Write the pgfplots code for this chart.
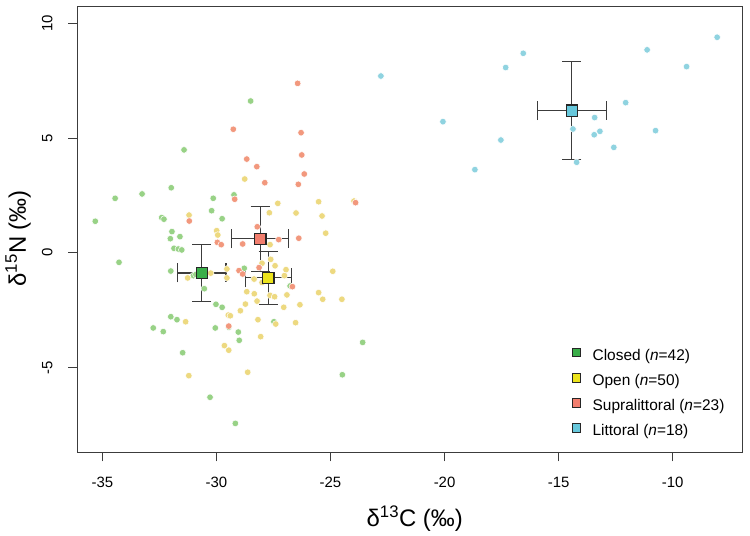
\documentclass[border=0pt]{standalone}
\usepackage{fontspec}
\setmainfont{Liberation Sans}
\usepackage{pgfplots}
\pgfplotsset{compat=1.18}
\definecolor{gl}{RGB}{152,210,134}
\definecolor{gm}{RGB}{58,174,73}
\definecolor{yl}{RGB}{237,217,128}
\definecolor{ym}{RGB}{236,228,28}
\definecolor{sl}{RGB}{242,152,125}
\definecolor{sm}{RGB}{242,126,110}
\definecolor{cl}{RGB}{143,211,224}
\definecolor{cm}{RGB}{103,200,220}
\definecolor{axc}{RGB}{60,60,60}
\begin{document}
\begin{tikzpicture}
\path[use as bounding box] (-77.5bp,-83.7bp) rectangle (672.5bp,452.3bp);
\begin{axis}[
  scale only axis, width=665.2bp, height=445.8bp,
  xmin=-36.09, xmax=-6.93, ymin=-8.70, ymax=10.73,
  xtick={-35,-30,-25,-20,-15,-10}, ytick={-5,0,5,10},
  xtick pos=bottom, ytick pos=left, tick align=outside,
  major tick length=9bp,
  axis line style={axc, line width=0.9bp},
  every tick/.style={axc, line width=0.9bp},
  /pgf/number format/assume math mode=true,
  ticklabel style={font=\fontsize{15}{18}\selectfont},
  xticklabel style={yshift=-12.5bp},
  yticklabel={\rotatebox{90}{\pgfmathprintnumber{\tick}}},
  yticklabel style={anchor=east, xshift=-12.5bp},
  xlabel={δ\textsuperscript{13}C (‰)},
  ylabel={δ\textsuperscript{15}N (‰)},
  label style={font=\fontsize{24}{28}\selectfont},
  xlabel style={at={(axis description cs:0.507,0)}, anchor=center, yshift=-66.7bp},
  ylabel style={at={(axis description cs:0,0.48)}, anchor=center, yshift=59.5bp},
  clip=false,
  legend style={draw=none, fill=none, font=\fontsize{15.5}{18}\selectfont,
    at={(axis cs:-14.42,-4.15)}, anchor=north west, inner sep=0pt,
    row sep=9.6bp, nodes={inner sep=0pt, text height=11bp, text depth=3.5bp},
    /tikz/every odd column/.style={column sep=11.9bp}},
  legend cell align=left,
  legend image code/.code={\draw[mark repeat=1,#1] plot coordinates {(0bp,4bp)};},
]
% Closed
\addplot[forget plot, only marks, mark=*, mark size=3.3bp, mark options={fill=gl, draw=white, line width=0.5bp}] table {
x y
-28.50 6.61
-31.42 4.48
-31.98 2.83
-34.44 2.37
-33.26 2.56
-30.14 2.37
-29.23 2.52
-35.31 1.37
-30.21 1.83
-29.75 1.48
-32.40 1.53
-32.30 1.46
-31.95 0.92
-31.60 0.70
-32.02 0.61
-31.86 0.19
-31.67 0.16
-31.52 0.12
-34.27 -0.42
-32.00 -0.80
-31.01 -1.00
-30.60 -0.90
-30.90 -0.95
-28.78 -0.68
-30.53 -1.57
-30.02 -2.25
-29.75 -2.38
-32.00 -2.79
-31.73 -2.92
-32.77 -3.28
-32.33 -3.44
-30.05 -3.28
-29.46 -3.25
-29.04 -3.46
-29.00 -3.82
-31.48 -4.36
-30.28 -6.30
-29.17 -7.44
-27.48 -3.01
-26.77 -1.45
-23.59 -3.91
-24.48 -5.32
};
% Open
\addplot[forget plot, only marks, mark=*, mark size=3.3bp, mark options={fill=yl, draw=white, line width=0.5bp}] table {
x y
-28.76 3.21
-31.20 1.64
-27.31 2.15
-27.68 1.74
-29.99 0.96
-29.94 0.77
-27.65 0.35
-25.52 2.22
-23.97 2.25
-26.51 1.73
-25.37 1.60
-25.21 0.85
-27.62 -0.29
-31.26 -1.10
-30.25 -0.89
-29.54 -0.71
-29.54 -1.10
-28.67 -1.70
-28.34 -1.79
-28.73 -2.24
-28.22 -2.11
-29.48 -2.72
-29.39 -2.75
-28.95 -2.53
-31.35 -3.01
-28.18 -2.92
-28.06 -3.66
-29.65 -4.05
-29.46 -4.25
-31.21 -5.36
-28.63 -5.21
-27.40 -3.11
-28.00 -0.46
-27.43 -0.57
-26.95 -0.74
-27.02 -1.00
-28.35 -1.15
-24.90 -0.81
-27.65 -1.86
-27.45 -1.92
-26.91 -1.84
-25.52 -1.74
-25.34 -2.03
-24.50 -2.03
-26.34 -2.27
-27.05 -2.38
-26.53 -3.05
-27.80 -1.00
-27.60 -1.20
-28.00 -1.30
};
% Supralittoral
\addplot[forget plot, only marks, mark=*, mark size=3.3bp, mark options={fill=sl, draw=white, line width=0.5bp}] table {
x y
-29.26 5.38
-28.67 4.08
-28.23 3.75
-27.88 3.05
-29.20 2.33
-31.19 1.38
-29.96 0.45
-29.79 0.35
-28.21 1.13
-28.85 0.38
-27.27 0.57
-26.44 7.38
-26.29 5.23
-26.26 4.26
-26.15 3.43
-26.41 2.98
-23.90 2.18
-26.39 0.63
-29.01 -0.78
-28.85 -0.93
-28.13 -0.65
-26.67 -1.48
-29.46 -3.20
};
% Littoral
\addplot[forget plot, only marks, mark=*, mark size=3.3bp, mark options={fill=cl, draw=white, line width=0.5bp}] table {
x y
-8.05 9.39
-11.12 8.84
-9.39 8.11
-16.55 8.69
-17.32 8.07
-22.79 7.70
-12.06 6.54
-20.07 5.71
-13.42 5.89
-14.37 5.39
-13.19 5.29
-13.44 5.14
-10.75 5.32
-17.53 4.91
-12.58 4.59
-14.21 3.94
-18.67 3.62
-14.40 6.20
};
% Means with error bars
\pgfplotsset{meanstyle/.style={forget plot, only marks, mark=square*, mark size=5.7bp,
  mark options={fill=#1, draw=black!85, line width=1.2bp},
  error bars/.cd, x dir=both, x explicit, y dir=both, y explicit,
  error bar style={color=axc, line width=1.1bp},
  error mark options={rotate=90, mark size=9.5bp, color=axc, line width=1.1bp}}}
\addplot[meanstyle=gm] coordinates {(-30.64,-0.885) +- (1.06,1.25)};
\addplot[meanstyle=ym] coordinates {(-27.73,-1.10) +- (1.01,1.15)};
\addplot[meanstyle=sm] coordinates {(-28.08,0.60) +- (1.25,1.42)};
\addplot[meanstyle=cm] coordinates {(-14.42,6.19) +- (1.51,2.13)};
% Legend
\addlegendimage{only marks, mark=square*, mark size=4.35bp, mark options={fill=gm, draw=black!85, line width=0.8bp}}
\addlegendentry{Closed (\textit{n}=42)}
\addlegendimage{only marks, mark=square*, mark size=4.35bp, mark options={fill=ym, draw=black!85, line width=0.8bp}}
\addlegendentry{Open (\textit{n}=50)}
\addlegendimage{only marks, mark=square*, mark size=4.35bp, mark options={fill=sm, draw=black!85, line width=0.8bp}}
\addlegendentry{Supralittoral (\textit{n}=23)}
\addlegendimage{only marks, mark=square*, mark size=4.35bp, mark options={fill=cm, draw=black!85, line width=0.8bp}}
\addlegendentry{Littoral (\textit{n}=18)}
\end{axis}
\end{tikzpicture}
\end{document}
